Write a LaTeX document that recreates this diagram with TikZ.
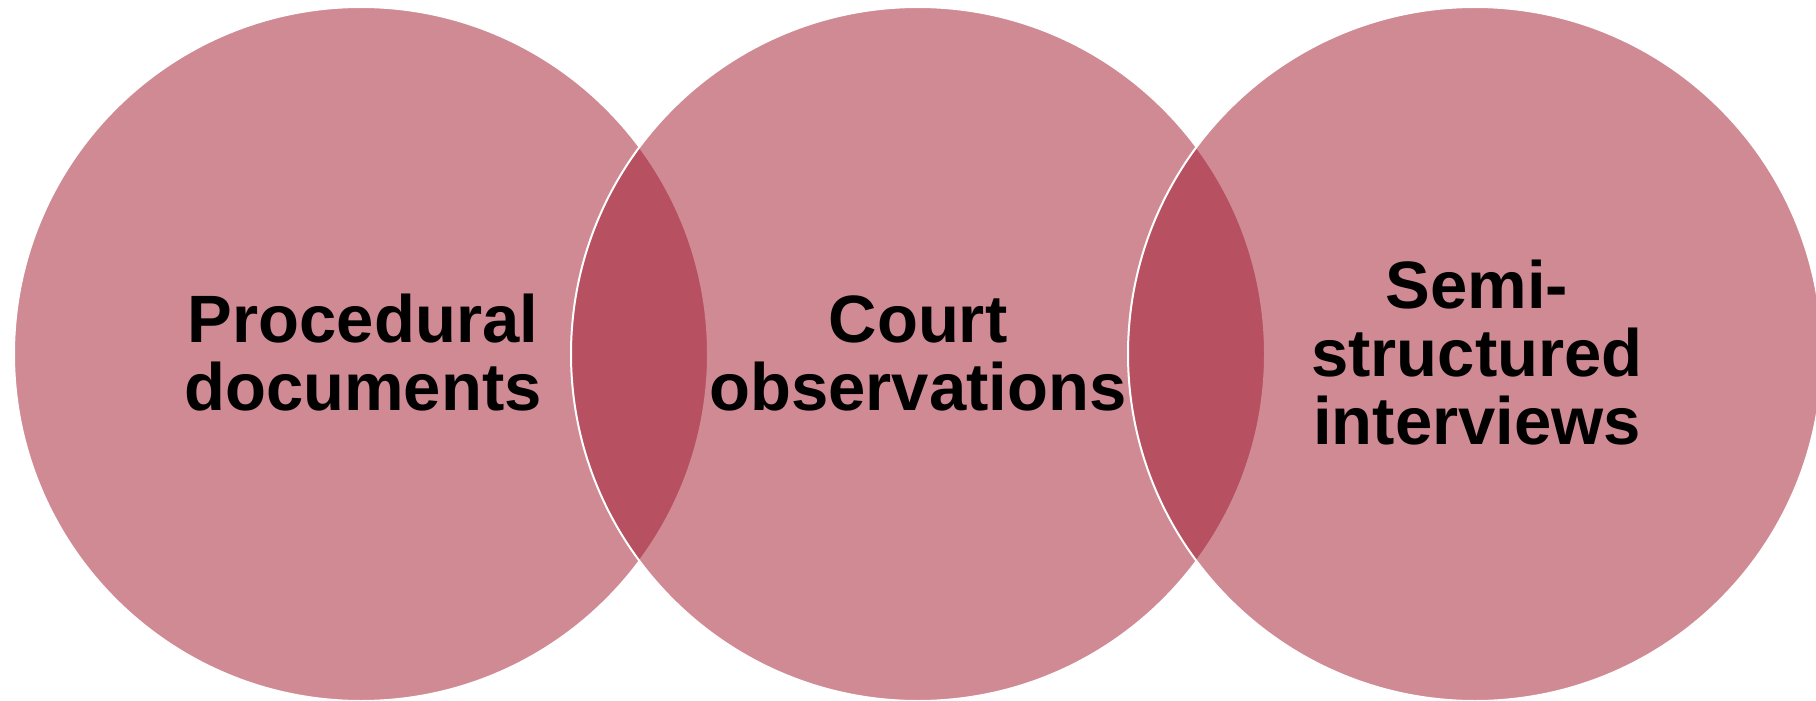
\documentclass[tikz,border=0pt]{standalone}
\usepackage{fontspec}
\setmainfont{Liberation Sans}
\definecolor{vennbase}{RGB}{161,26,46}
\tikzset{
  venn/.style={fill=vennbase, fill opacity=0.51, draw=white, draw opacity=1, line width=1pt},
  lbl/.style={align=center, font=\bfseries\fontsize{33.5}{34}\selectfont, text=black, inner sep=0pt, text opacity=1}
}
\begin{document}
\begin{tikzpicture}[x=0.5pt,y=-0.5pt]
\useasboundingbox (0,0) rectangle (1816,701);
\coordinate (c1) at (361,354);
\coordinate (c2) at (918,354);
\coordinate (c3) at (1475,354);
\fill[white] (0,0) rectangle (1816,701);
\draw[venn] (c1) circle[radius=173.5pt];
\draw[venn] (c2) circle[radius=173.5pt];
\draw[venn] (c3) circle[radius=173.5pt];
\node[lbl] (t1) at (363,353) {Procedural\\documents};
\node[lbl] (t2) at (918,353) {Court\\observations};
\node[lbl] (t3) at (1477,353) {Semi-\\structured\\interviews};
\end{tikzpicture}
\end{document}
